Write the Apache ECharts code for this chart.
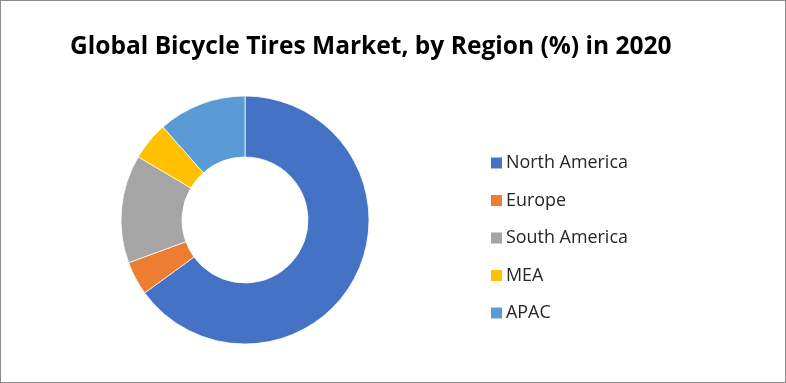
<!DOCTYPE html>
<html>
<head>
<meta charset="utf-8">
<script src="https://cdn.jsdelivr.net/npm/echarts@6/dist/echarts.min.js"></script>
<style>
html,body{margin:0;padding:0;background:#fff;}
#frame{position:absolute;left:0;top:0;width:784px;height:381px;border:1px solid #8c8c8c;background:#fff;}
#chart{width:784px;height:381px;}
</style>
</head>
<body>
<div id="frame"><div id="chart"></div></div>
<script>
const titleText = 'Global Bicycle Tires Market, by Region (%) in 2020';
const categories = ['North America', 'Europe', 'South America', 'MEA', 'APAC'];
const values = [65.0, 4.4, 14.1, 5.0, 11.5];
const colors = ['#4472C4', '#ED7D31', '#A5A5A5', '#FFC000', '#5B9BD5'];

const titleFamily = "'Open Sans', 'Noto Sans', sans-serif";
const legendFamily = "'Open Sans', 'Noto Sans', sans-serif";

function fitSize(text, weight, family, targetWidth) {
  const c = document.createElement('canvas').getContext('2d');
  c.font = weight + ' 100px ' + family;
  const w = c.measureText(text).width;
  return 100 * targetWidth / w;
}
const titleSize = fitSize(titleText, 'bold', titleFamily, 602);
const legendSize = fitSize('North America', 'normal', legendFamily, 122);

const chart = echarts.init(document.getElementById('chart'));
chart.setOption({
  animation: false,
  backgroundColor: '#fff',
  title: {
    text: titleText,
    left: 64,
    top: 29,
    textStyle: {
      fontFamily: titleFamily,
      fontWeight: 'bold',
      fontSize: titleSize,
      color: '#000'
    }
  },
  legend: {
    orient: 'vertical',
    left: 485,
    top: 147,
    itemWidth: 11,
    itemHeight: 11,
    itemGap: 17.5,
    icon: 'rect',
    selectedMode: false,
    data: categories,
    itemStyle: { borderWidth: 0 },
    textStyle: {
      fontFamily: legendFamily,
      fontSize: legendSize,
      lineHeight: 20,
      color: '#262626',
      padding: [0, 0, 0, -1]
    }
  },
  series: [{
    type: 'pie',
    center: [244, 219],
    radius: [63, 124],
    startAngle: 90,
    clockwise: true,
    label: { show: false },
    labelLine: { show: false },
    emphasis: { disabled: true },
    itemStyle: { borderColor: '#fff', borderWidth: 0.75 },
    data: categories.map((n, i) => ({ name: n, value: values[i], itemStyle: { color: colors[i] } }))
  }]
});
</script>
</body>
</html>
